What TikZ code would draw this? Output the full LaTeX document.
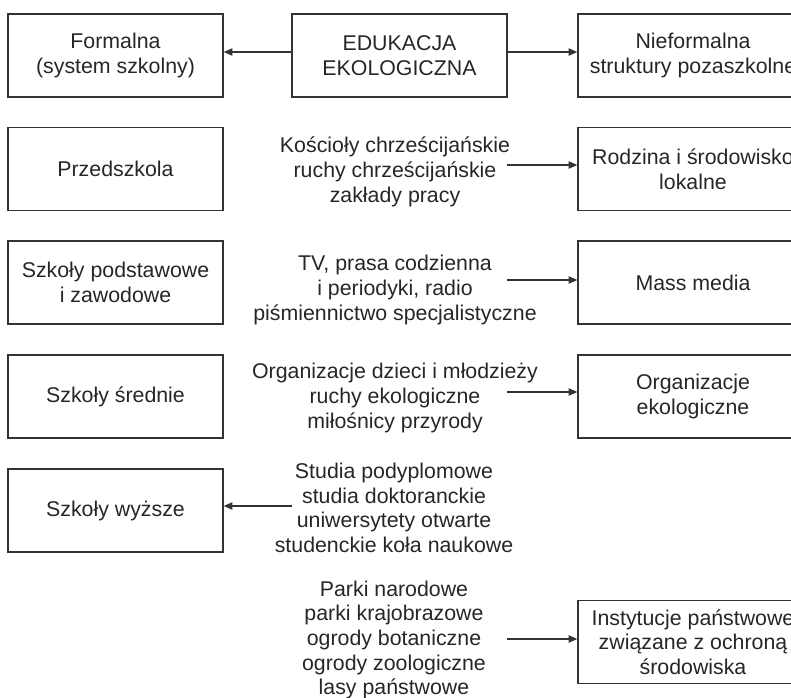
\documentclass[tikz,border=0pt]{standalone}
\usepackage{fontspec}
\setmainfont{Liberation Sans}
\usetikzlibrary{arrows.meta}

\begin{document}
\begin{tikzpicture}[x=0.75pt,y=-0.75pt,
  box/.style={shape=rectangle,draw=black!80,line width=1.1pt,minimum width=161.25pt,minimum height=62pt,inner sep=0pt,align=center,text=black!85,font=\fontsize{16}{18.5}\selectfont},
  rbox/.style={box,minimum width=172.5pt},
  lista/.style={align=center,inner sep=0pt,text=black!85,font=\fontsize{16}{18.5}\selectfont},
  strz/.style={draw=black!80,line width=0.9pt,-{Triangle[length=6.5pt,width=5.5pt]}}]
\clip (0,0) rectangle (791,698);
% top row
\node[box] at (115.5, 55.5) (formalna) {Formalna\\(system szkolny)};
\node[box] at (399.5, 55.5) (edu) {EDUKACJA\\EKOLOGICZNA};
\node[rbox] at (693, 55.5) (niefor) {Nieformalna\\struktury pozaszkolne};
% left column
\node[box] at (115.5, 169) (przed) {Przedszkola};
\node[box] at (115.5, 282.5) (podst) {Szkoły podstawowe\\i zawodowe};
\node[box] at (115.5, 396.5) (sred) {Szkoły średnie};
\node[box] at (115.5, 510.5) (wyzsze) {Szkoły wyższe};
% right column
\node[rbox] at (693, 169) (rodzina) {Rodzina i środowisko\\lokalne};
\node[rbox] at (693, 282.5) (media) {Mass media};
\node[rbox] at (693, 396.5) (orgeko) {Organizacje\\ekologiczne};
\node[rbox] at (693, 642) (inst) {Instytucje państwowe\\związane z ochroną\\środowiska};
% middle lists
\node[lista] at (395, 172) (koscioly) {Kościoły chrześcijańskie\\ruchy chrześcijańskie\\zakłady pracy};
\node[lista] at (395, 290) (prasa) {TV, prasa codzienna\\i periodyki, radio\\piśmiennictwo specjalistyczne};
\node[lista] at (395, 398) (orgdz) {Organizacje dzieci i młodzieży\\ruchy ekologiczne\\miłośnicy przyrody};
\node[lista] at (394, 508) (studia) {Studia podyplomowe\\studia doktoranckie\\uniwersytety otwarte\\studenckie koła naukowe};
\node[lista] at (394, 640) (parki) {Parki narodowe\\parki krajobrazowe\\ogrody botaniczne\\ogrody zoologiczne\\lasy państwowe};
\coordinate (k1) at (507, 165);
\coordinate (k2) at (507, 280);
\coordinate (k3) at (507, 392);
\coordinate (k4) at (292, 506);
\coordinate (k5) at (507, 639);
% arrows
\draw[strz] ([yshift=2.6pt]edu.west) -- ([yshift=2.6pt]formalna.east);
\draw[strz] ([yshift=2.6pt]edu.east) -- ([yshift=2.6pt]niefor.west);
\draw[strz] (k1) -- (k1 -| rodzina.west);
\draw[strz] (k2) -- (k2 -| media.west);
\draw[strz] (k3) -- (k3 -| orgeko.west);
\draw[strz] (k4) -- (k4 -| wyzsze.east);
\draw[strz] (k5) -- (k5 -| inst.west);
\end{tikzpicture}
\end{document}
